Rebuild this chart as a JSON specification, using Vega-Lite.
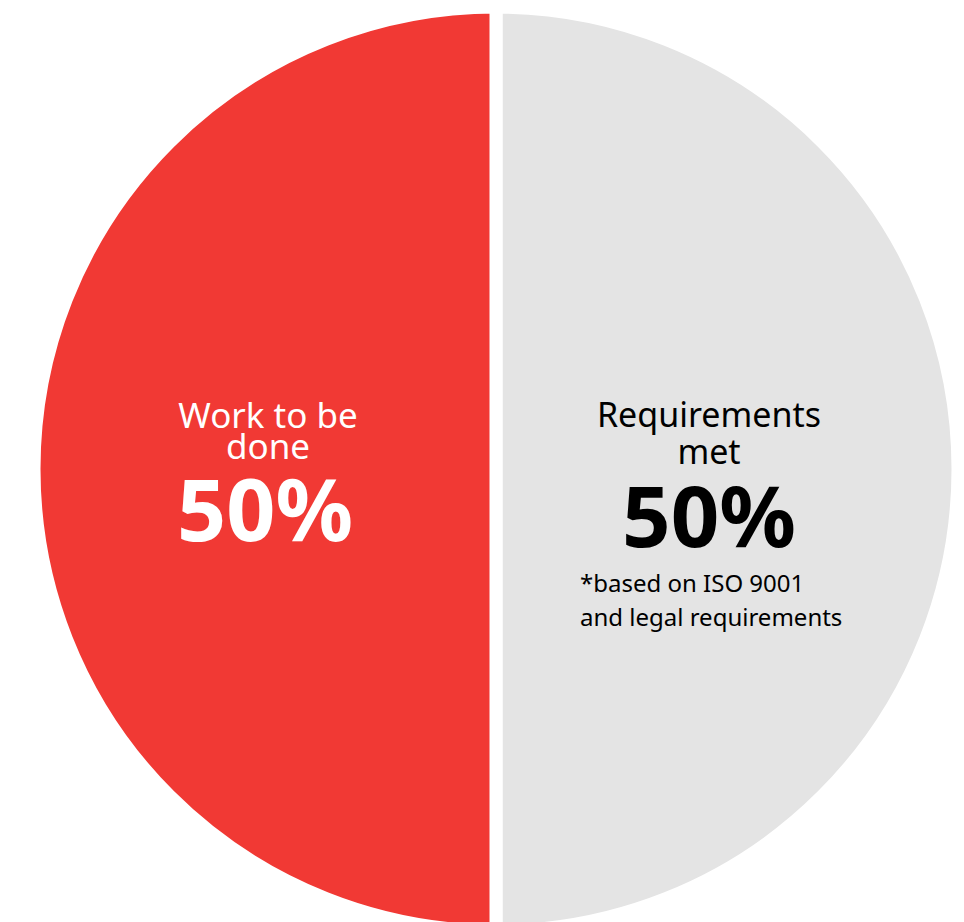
{
  "$schema": "https://vega.github.io/schema/vega-lite/v6.json",
  "width": 936,
  "height": 906,
  "autosize": {"type": "none"},
  "padding": {"left": 28, "top": 16, "right": 0, "bottom": 0},
  "background": "#ffffff",
  "config": {"view": {"stroke": null}},
  "data": {
    "values": [
      {"cat": "Requirements met", "value": 50, "label": "Requirements\nmet", "pct": "50%", "note": "*based on ISO 9001\nand legal requirements"},
      {"cat": "Work to be done", "value": 50, "label": "Work to be\ndone", "pct": "50%", "note": ""}
    ]
  },
  "layer": [
    {
      "mark": {"type": "arc", "radius": 462, "stroke": "#ffffff", "strokeWidth": 13},
      "encoding": {
        "theta": {"field": "value", "type": "quantitative", "stack": true},
        "order": {"field": "cat", "type": "nominal", "sort": "ascending"},
        "color": {"field": "cat", "type": "nominal", "scale": {"domain": ["Requirements met", "Work to be done"], "range": ["#E4E4E4", "#F13934"]}, "legend": null}
      }
    },
    {
      "mark": {"type": "text", "radius": 222, "dx": -6, "dy": -41, "font": "Noto Sans", "fontSize": 35, "baseline": "alphabetic", "align": "center", "lineBreak": "\n", "lineHeight": 31, "fill": "#ffffff"},
      "encoding": {
        "theta": {"field": "value", "type": "quantitative", "stack": true},
        "order": {"field": "cat", "type": "nominal", "sort": "ascending"},
        "text": {"condition": {"test": "datum.cat === 'Work to be done'", "field": "label"}, "value": ""}
      }
    },
    {
      "mark": {"type": "text", "radius": 222, "dx": -9, "dy": 72, "font": "Noto Sans", "fontSize": 86, "fontWeight": "bold", "baseline": "alphabetic", "align": "center", "fill": "#ffffff"},
      "encoding": {
        "theta": {"field": "value", "type": "quantitative", "stack": true},
        "order": {"field": "cat", "type": "nominal", "sort": "ascending"},
        "text": {"condition": {"test": "datum.cat === 'Work to be done'", "field": "pct"}, "value": ""}
      }
    },
    {
      "mark": {"type": "text", "radius": 222, "dx": -9, "dy": -42, "font": "Noto Sans", "fontSize": 34, "baseline": "alphabetic", "align": "center", "lineBreak": "\n", "lineHeight": 37, "fill": "#000000"},
      "encoding": {
        "theta": {"field": "value", "type": "quantitative", "stack": true},
        "order": {"field": "cat", "type": "nominal", "sort": "ascending"},
        "text": {"condition": {"test": "datum.cat === 'Requirements met'", "field": "label"}, "value": ""}
      }
    },
    {
      "mark": {"type": "text", "radius": 222, "dx": -9, "dy": 78, "font": "Noto Sans", "fontSize": 85, "fontWeight": "bold", "baseline": "alphabetic", "align": "center", "fill": "#000000"},
      "encoding": {
        "theta": {"field": "value", "type": "quantitative", "stack": true},
        "order": {"field": "cat", "type": "nominal", "sort": "ascending"},
        "text": {"condition": {"test": "datum.cat === 'Requirements met'", "field": "pct"}, "value": ""}
      }
    },
    {
      "mark": {"type": "text", "radius": 222, "dx": -138, "dy": 123, "font": "Noto Sans", "fontSize": 24, "baseline": "alphabetic", "align": "left", "lineBreak": "\n", "lineHeight": 34, "fill": "#000000"},
      "encoding": {
        "theta": {"field": "value", "type": "quantitative", "stack": true},
        "order": {"field": "cat", "type": "nominal", "sort": "ascending"},
        "text": {"condition": {"test": "datum.cat === 'Requirements met'", "field": "note"}, "value": ""}
      }
    }
  ]
}
